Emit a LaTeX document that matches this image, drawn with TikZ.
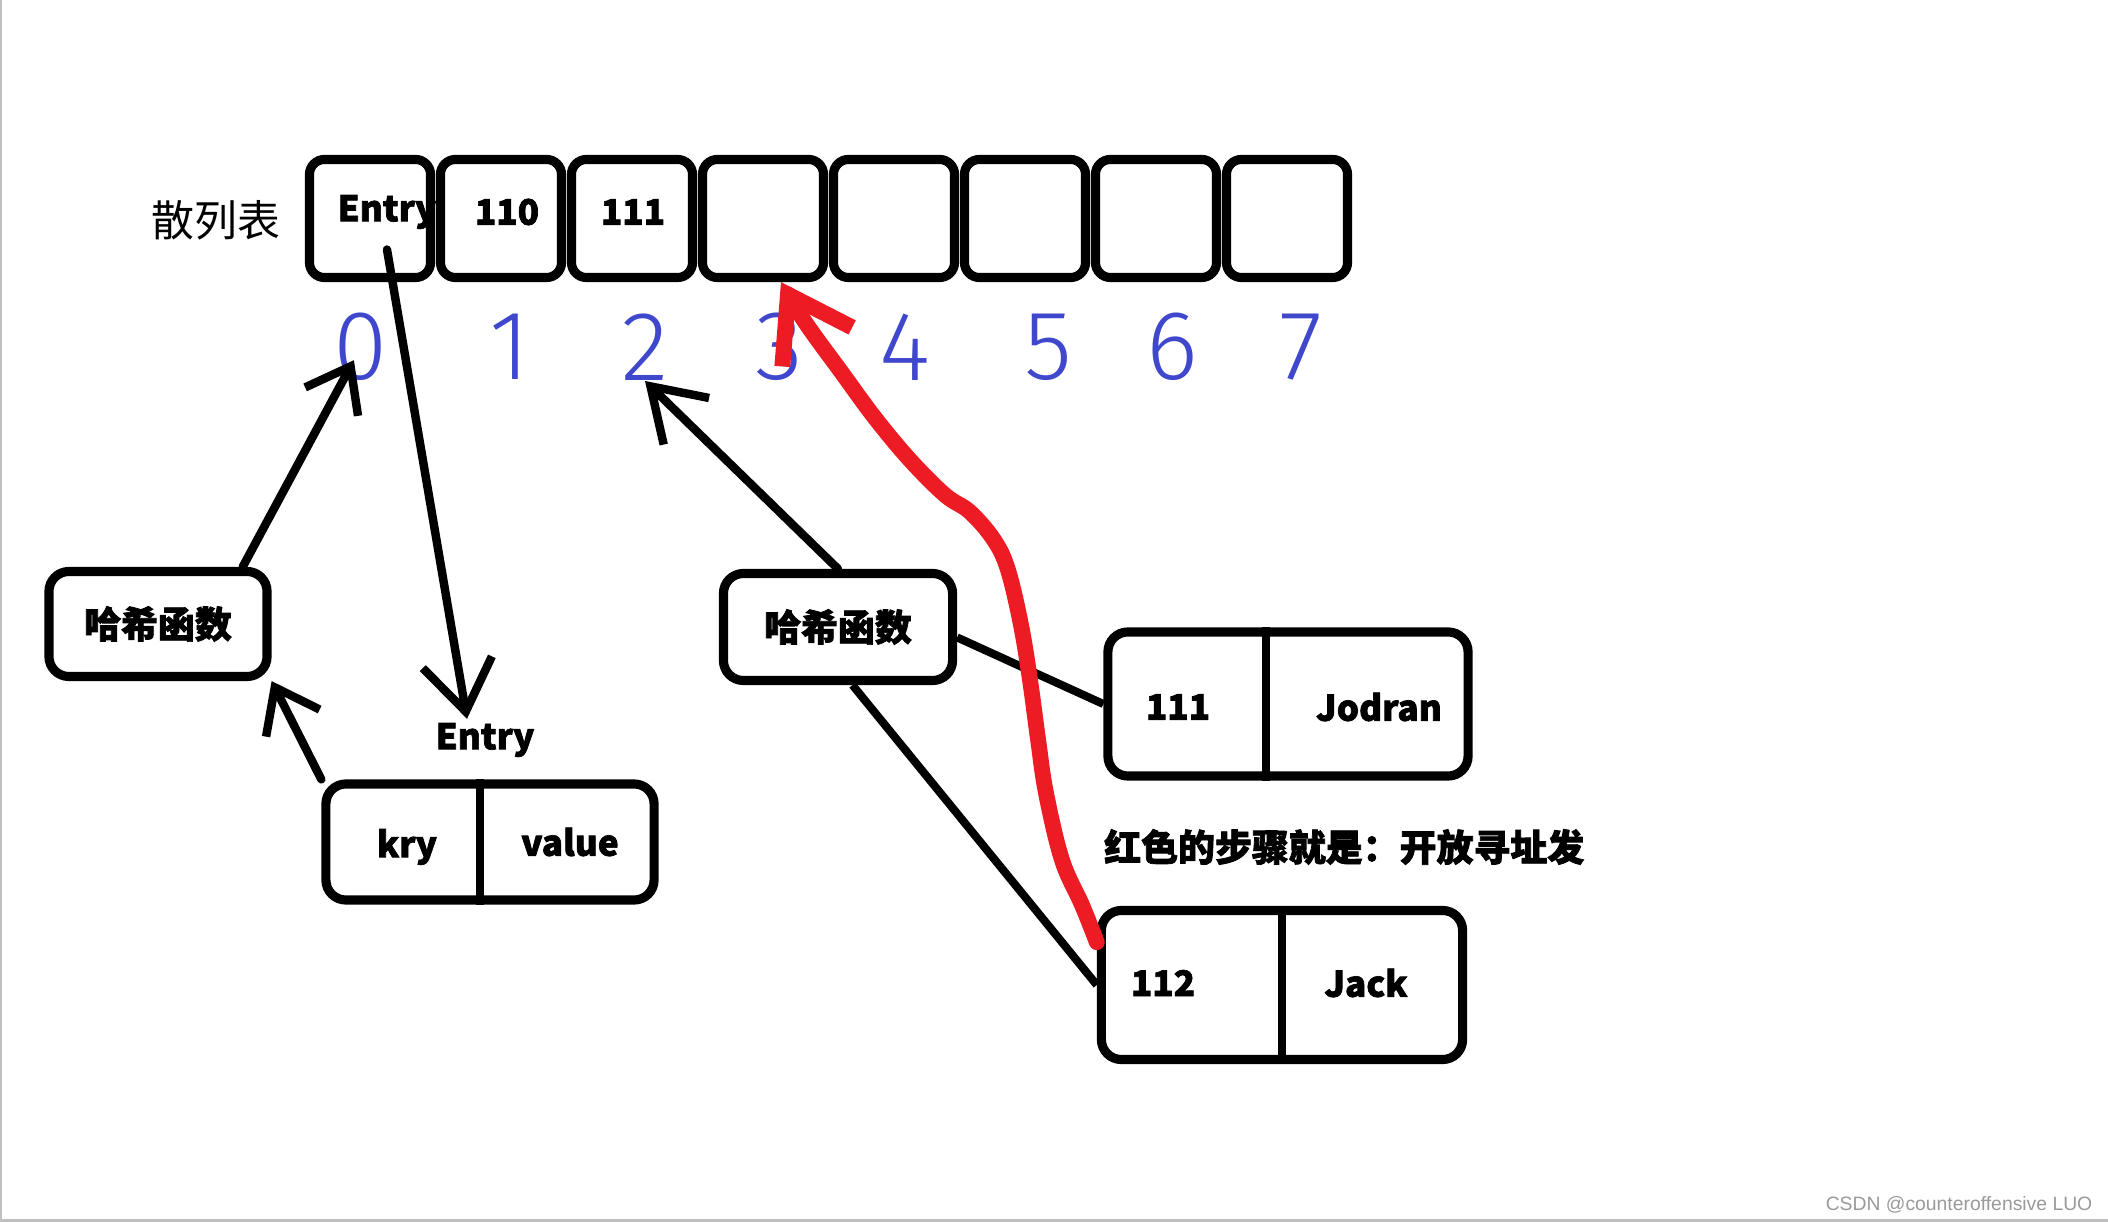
\documentclass[tikz,border=0pt]{standalone}
\usepackage{fontspec}
\usetikzlibrary{arrows.meta}
\setmainfont{Noto Sans CJK SC}
\newfontfamily\heavy{Noto Sans CJK SC}[FakeBold = 2]
\newfontfamily\hand{Fira Sans}[UprightFont = * Light]
\newfontfamily\wmfont{Liberation Sans}
\definecolor{pen}{RGB}{237,28,36}
\definecolor{ink}{RGB}{63,72,204}

\begin{document}
\begin{tikzpicture}[x = 0.01cm, y = -0.01cm,
	cell/.style={draw, line width = 2.6pt, rounded corners = 1.5mm, minimum width = 12.1mm, minimum height = 11.8mm, inner sep = 0pt},
	box/.style={draw, line width = 2.6pt, rounded corners = 2mm, inner sep = 0pt},
	word/.style={font = \heavy\bfseries\fontsize{10}{12}\selectfont, inner sep = 1pt},
	hanzi/.style={font = \heavy\bfseries\fontsize{10.5}{12}\selectfont, inner sep = 1pt},
	digit/.style={font = \hand\fontsize{28}{28}\selectfont, text = ink, inner sep = 0pt},
	arrow/.style={-{Straight Barb[length = 4mm, width = 6mm]}, line width = 2.4pt, line cap = round},
	link/.style={line width = 2.3pt}]

	\useasboundingbox (0,0) rectangle (2108,1222);
	\draw[black!25, line width = 0.6pt] (1,0) -- (1,1220.5) -- (2108,1220.5);

	% hash table
	\node[font = \fontsize{12.2}{14}\selectfont] (title) at (216,220) {散列表};
	\foreach \i in {0,...,7}
		\node[cell] (c\i) at (370+131*\i, 218.5) {};
	\node[word] (t0) at (387,212) {Entry};
	\node[word] (t1) at (507,212) {110};
	\node[word] (t2) at (633,212) {111};

	% indices
	\foreach \i/\x in {0/361, 1/510, 2/645, 3/779, 4/905, 5/1048, 6/1172, 7/1301}
		\node[digit] (d\i) at (\x,347) {\i};

	% hash functions
	\node[box, hanzi, minimum width = 21.8mm, minimum height = 10.5mm] (hash1) at (158,624) {哈希函数};
	\node[box, hanzi, minimum width = 22.9mm, minimum height = 10.7mm] (hash2) at (838,627) {哈希函数};

	% entries
	\node[word] (entry) at (485,740) {Entry};
	\node[box, minimum width = 32.8mm, minimum height = 11.6mm] (kv) at (490,842) {};
	\coordinate (kvdiv) at (480,842);
	\draw[link] (kvdiv |- kv.north) -- (kvdiv |- kv.south);
	\node[word] (kkey) at (407,847) {kry};
	\node[word] (kval) at (570,842) {value};

	\node[box, minimum width = 36mm, minimum height = 14.4mm] (jodran) at (1288,704) {};
	\coordinate (jdiv) at (1266,704);
	\draw[link] (jdiv |- jodran.north) -- (jdiv |- jodran.south);
	\node[word] (jkey) at (1178,707) {111};
	\node[word] (jval) at (1379,707) {Jodran};

	\node[box, minimum width = 36.1mm, minimum height = 14.9mm] (jack) at (1282,985) {};
	\coordinate (jkdiv) at (1282,985);
	\draw[link] (jkdiv |- jack.north) -- (jkdiv |- jack.south);
	\node[word] (jkkey) at (1163,983) {112};
	\node[word] (jkval) at (1366,983) {Jack};

	\node[hanzi, anchor = west] (note) at (1100,847) {红色的步骤就是：开放寻址发};

	% arrows
	\draw[arrow, shorten >= 1.5mm] (hash1.34) -- (d0.center);
	\draw[arrow] (kv.north west) -- (hash1.south east);
	\draw[arrow, -{Straight Barb[length = 5mm, width = 7mm]}] ([shift = {(17,31)}]c0.center) -- ([xshift = -0.18cm]entry.north);
	\draw[arrow, -{Straight Barb[length = 5mm, width = 6.5mm]}] (hash2.north) -- (d2.south);
	\draw[link] (hash2.-5) -- (jodran.west);
	\draw[link] (hash2.-76) -- (jack.west);

	% open addressing
	\draw[pen, line width = 4.5pt, line cap = round, line join = round, -{Straight Barb[length = 6mm, width = 8mm]}] plot[smooth, tension = 0.6] coordinates {(jack.167) (1082,905) (1062,860) (1046,793) (1038,739) (1030,680) (1021,625) (1008,570) (994,540) (970,512) (945,495) (910,460) (875,418) (842,373) (805,322) ([xshift = 0.18cm]c3.south)};

	\node[font = \wmfont\fontsize{5.5}{6}\selectfont, text = black!40, anchor = east, inner sep = 0pt] (credit) at (2093,1205) {CSDN @counteroffensive LUO};
\end{tikzpicture}
\end{document}
